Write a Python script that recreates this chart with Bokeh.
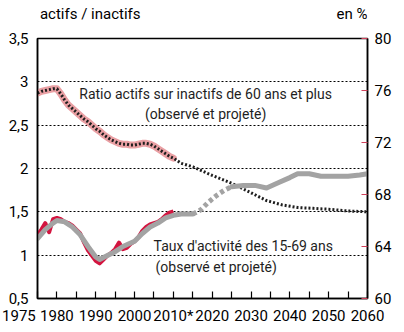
from bokeh.plotting import figure
from bokeh.models import Range1d, LinearAxis, FixedTicker
from bokeh.layouts import column
from bokeh.core.properties import value
from bokeh.embed import file_html
from bokeh.resources import INLINE

FONT = "Roboto"

# Ratio actifs / inactifs de 60 ans et plus (left axis)
ratio_obs_years = [1975, 1976, 1977, 1978, 1979, 1980, 1981, 1982, 1983, 1984, 1985, 1986,
                   1987, 1988, 1989, 1990, 1991, 1992, 1993, 1994, 1995, 1996, 1997, 1998,
                   1999, 2000, 2001, 2002, 2003, 2004, 2005, 2006, 2007, 2008, 2009, 2010]
ratio_obs = [2.87, 2.89, 2.90, 2.91, 2.92, 2.92, 2.86, 2.79, 2.73, 2.69, 2.65, 2.61,
             2.57, 2.54, 2.50, 2.46, 2.43, 2.39, 2.36, 2.33, 2.31, 2.29, 2.28, 2.28,
             2.27, 2.27, 2.28, 2.29, 2.29, 2.28, 2.26, 2.23, 2.20, 2.17, 2.14, 2.12]
ratio_proj_years = [2010, 2012, 2015, 2018, 2020, 2025, 2030, 2034, 2038, 2042, 2046, 2050, 2055, 2060]
ratio_proj = [2.12, 2.06, 2.02, 1.96, 1.92, 1.83, 1.72, 1.63, 1.58, 1.55, 1.54, 1.53, 1.51, 1.50]

# Taux d'activité des 15-69 ans, en % (right axis)
taux_obs_years = ratio_obs_years
taux_obs = [64.9, 65.3, 65.8, 65.1, 66.1, 66.2, 66.1, 65.9, 65.8, 65.6, 65.3, 65.0,
            64.3, 63.7, 63.3, 62.9, 62.7, 63.0, 63.3, 63.5, 63.8, 64.3, 63.8, 63.9,
            64.2, 64.4, 64.7, 65.2, 65.5, 65.7, 65.8, 65.9, 66.1, 66.4, 66.6, 66.7]
taux_trend_years = [1975, 1977, 1979, 1980, 1982, 1984, 1986, 1988, 1990, 1991, 1993, 1995,
                    1997, 2000, 2002, 2004, 2006, 2008, 2010, 2012, 2015]
taux_trend = [64.6, 65.3, 65.8, 66.0, 65.9, 65.5, 64.9, 64.0, 63.2, 63.0, 63.3, 63.6,
              64.0, 64.4, 65.0, 65.5, 65.8, 66.2, 66.4, 66.5, 66.5]
taux_trans_years = [2015, 2017, 2019, 2021, 2023, 2025]
taux_trans = [66.5, 66.8, 67.4, 67.9, 68.3, 68.6]
taux_proj_years = [2025, 2028, 2031, 2034, 2037, 2040, 2042, 2045, 2048, 2052, 2055, 2058, 2060]
taux_proj = [68.6, 68.7, 68.7, 68.5, 68.9, 69.3, 69.6, 69.6, 69.4, 69.4, 69.4, 69.5, 69.6]

left_ticks = [0.5, 1, 1.5, 2, 2.5, 3, 3.5]
left_labels = ["0,5", "1", "1,5", "2", "2,5", "3", "3,5"]
right_ticks = [60, 64, 68, 72, 76, 80]
x_ticks = list(range(1975, 2061, 5))
x_labels = {1975: "1975" + "\u00a0" * 10, 1980: "1980", 1990: "1990", 2000: "2000", 2010: "2010*",
            2020: "2020", 2030: "2030", 2040: "2040", 2050: "2050", 2060: "2060"}

# top strip carrying the two axis titles
top = figure(width=404, height=30, x_range=Range1d(0, 404), y_range=Range1d(30, 0),
             output_backend="svg", toolbar_location=None, x_axis_type=None, y_axis_type=None,
             min_border=0)
top.outline_line_color = None
top.grid.visible = False
top.text(x=[3], y=[13], text=["actifs / inactifs"], text_font=value(FONT), text_font_size="15px",
         text_color="black", text_align="left", text_baseline="middle")
top.text(x=[366], y=[13], text=["en %"], text_font=value(FONT), text_font_size="15px",
         text_color="black", text_align="left", text_baseline="middle")

p = figure(width=404, height=302, x_range=Range1d(1975, 2060), y_range=Range1d(0.5, 3.5),
           output_backend="svg", toolbar_location=None,
           min_border_left=37, min_border_right=37, min_border_top=8, min_border_bottom=34)
p.extra_y_ranges = {"pct": Range1d(60, 80)}
p.background_fill_color = "white"
p.border_fill_color = "white"
p.outline_line_color = "black"
p.outline_line_width = 1.5

# axes
p.xaxis.ticker = FixedTicker(ticks=x_ticks)
p.xaxis.major_label_overrides = {t: x_labels.get(t, "") for t in x_ticks}
p.xaxis.major_tick_in = 7
p.xaxis.major_tick_out = 0
p.xaxis.minor_tick_line_color = None
p.xaxis.axis_line_width = 1.5
p.xaxis.major_tick_line_width = 1.2
p.xaxis.major_label_standoff = 8

p.yaxis.ticker = FixedTicker(ticks=left_ticks)
p.yaxis.major_label_overrides = dict(zip(left_ticks, left_labels))
p.yaxis.major_tick_in = 0
p.yaxis.major_tick_out = 0
p.yaxis.minor_tick_line_color = None
p.yaxis.axis_line_width = 1.5
p.yaxis.major_label_standoff = 9

raxis = LinearAxis(y_range_name="pct", ticker=FixedTicker(ticks=right_ticks))
raxis.major_tick_in = 6
raxis.major_tick_out = 0
raxis.major_tick_line_color = "#d0405a"
raxis.major_tick_line_width = 1.2
raxis.minor_tick_line_color = None
raxis.axis_line_width = 1.5
raxis.major_label_standoff = 7
p.add_layout(raxis, "right")

for ax in [p.xaxis[0], p.yaxis[0], raxis]:
    ax.major_label_text_font = FONT
    ax.major_label_text_font_size = "15px"
    ax.major_label_text_color = "black"
    ax.axis_line_color = "black"

p.xgrid.visible = False
p.ygrid.ticker = FixedTicker(ticks=[1, 1.5, 2, 2.5, 3])
p.ygrid.grid_line_color = "black"
p.ygrid.grid_line_dash = "2 2"
p.ygrid.grid_line_width = 1

# lines
p.line(ratio_obs_years, ratio_obs, line_color="#eaa0a4", line_width=7, line_cap="round", line_join="round")
p.line(ratio_obs_years + ratio_proj_years[1:], ratio_obs + ratio_proj[1:],
       line_color="#1e1e1e", line_width=3, line_dash="2 2")

p.line(taux_obs_years, taux_obs, y_range_name="pct", line_color="#d3143f", line_width=4, line_join="round")
p.line(taux_trend_years, taux_trend, y_range_name="pct", line_color="#a3a3a3", line_width=5,
       line_join="round", line_cap="round")
p.line(taux_trans_years, taux_trans, y_range_name="pct", line_color="#a3a3a3", line_width=5,
       line_dash="4 3")
p.line(taux_proj_years, taux_proj, y_range_name="pct", line_color="#a3a3a3", line_width=5,
       line_join="round", line_cap="round")

# annotations in the plot
p.text(x=[2018.3, 2018.3], y=[2.865, 2.634],
       text=["Ratio actifs sur inactifs de 60 ans et plus", "(observé et projeté)"],
       text_font=value(FONT), text_font_size="14px", text_color="#1e1e1e",
       text_align="center", text_baseline="middle")
p.text(x=[2004.9, 2005.4], y=[1.11, 0.858],
       text=["Taux d'activité des 15-69 ans", "(observé et projeté)"],
       text_font=value(FONT), text_font_size="14px", text_color="#1e1e1e",
       text_align="left", text_baseline="middle")

layout = column(top, p, spacing=0)
open("out.html", "w").write(file_html(layout, INLINE))
